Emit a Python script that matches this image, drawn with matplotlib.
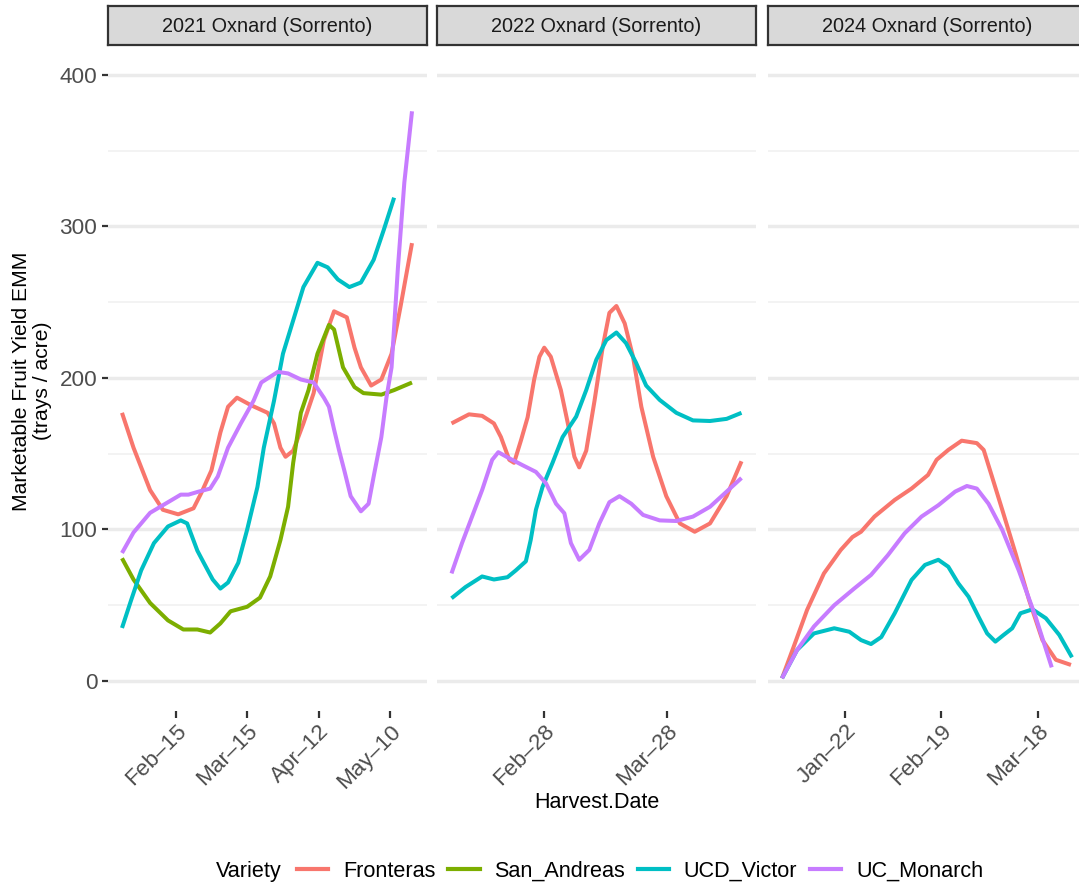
import matplotlib
matplotlib.use("Agg")
import matplotlib.pyplot as plt
import matplotlib.dates as mdates
from matplotlib.lines import Line2D
from matplotlib.ticker import MultipleLocator
import pandas as pd

plt.rcParams['font.family'] = ['Liberation Sans', 'DejaVu Sans']

# harvest dates are kept as days relative to each trial's first axis break
ref_2021 = "2021-02-15"
ref_2022 = "2022-02-28"
ref_2024 = "2024-01-22"

facet_titles = ["2021 Oxnard (Sorrento)", "2022 Oxnard (Sorrento)", "2024 Oxnard (Sorrento)"]
varieties = ["Fronteras", "San_Andreas", "UCD_Victor", "UC_Monarch"]
colors = {"Fronteras": "#F8766D", "San_Andreas": "#7CAE00",
          "UCD_Victor": "#00BFC4", "UC_Monarch": "#C77CFF"}

# ---- 2021
fr21_days = [-21, -16.5, -10, -5, 1, 7, 10, 14, 17.5, 20.5, 24, 29.5, 36, 38.5, 41, 43, 46, 50, 54,
             58, 62, 67, 70, 72.5, 76.5, 80.5, 84.5, 88, 92.5]
fr21_vals = [177, 154, 126, 113, 110, 114, 124, 139, 164, 181, 187, 182, 177, 170, 154, 148, 152, 170, 190,
             225, 244, 240, 220, 207, 195, 199, 216, 247, 289]
sa21_days = [-21, -16.5, -10, -3, 3, 8.5, 13.5, 17.5, 21.5, 28, 33, 37, 41, 44, 46, 49, 52, 55.5,
             60, 62, 65.5, 70, 73.5, 80.5, 85.5, 92.5]
sa21_vals = [81, 67, 51.5, 40, 34, 34, 32, 38, 46, 49, 55, 69, 93, 115, 144, 177, 192, 216,
             235, 232, 207, 194, 190, 189, 192, 197]
uv21_days = [-21, -17.5, -13.5, -8.5, -3, 2, 4.5, 8.5, 11, 14.5, 17.5, 20.5, 24.5, 28, 32, 34.5,
             38.5, 42, 46, 50, 55.5, 59.5, 63.5, 68, 72.5, 77.5, 81.5, 85.5]
uv21_vals = [35, 53, 73, 91, 102, 106, 104, 86, 78, 67, 61, 65, 78, 100, 128, 154,
             185, 216, 238, 260, 276, 273, 265, 260, 263, 278, 298, 319]
um21_days = [-21, -16.5, -10, -3, 2, 5, 9, 13.5, 16.5, 20.5, 25.5, 30.5, 33.5, 40, 44, 49, 54, 58,
             60, 62, 64, 66, 68.5, 72.5, 75.5, 77.5, 80.5, 82.5, 84.5, 87, 89.5, 92.5]
um21_vals = [84.5, 98, 111, 118, 123, 123, 125, 127, 135, 154, 170, 185, 197, 204, 203, 199, 197, 187,
             181, 166, 152, 139, 122, 112, 117, 135, 161, 187, 207, 273, 329, 376]

# ---- 2022
fr22_days = [-21.2, -17.2, -14.2, -11.5, -9.9, -8, -6.9, -5.3, -3.8, -2.3, -1.1, 0, 1.5, 3.8, 5.4,
             6.9, 8, 9.6, 11.5, 13.4, 14.9, 16.5, 18.4, 20.3, 22.2, 24.9, 27.9, 31, 34.4, 37.9, 41.7, 45.1]
fr22_vals = [170, 176, 175, 170, 161, 146, 144, 159, 174, 199, 214, 220, 214, 192, 170,
             148, 141, 152, 185, 221, 243, 247.5, 236, 214, 181, 148, 122, 104, 98.5, 104, 122, 145]
uv22_days = [-21.2, -18, -14.2, -11.5, -8.4, -6.5, -4.2, -3.1, -1.9, -0.4, 1.9, 4.2, 7.3, 9.6, 11.9,
             14.2, 16.5, 18.7, 21, 23.3, 26.4, 30.2, 34, 37.9, 41.7, 45.1]
uv22_vals = [54.6, 62, 69, 67, 68.5, 73, 79, 93, 113, 128, 144, 161, 174.5, 192, 212,
             225, 230, 223, 210, 195, 185.5, 177, 172, 171.6, 173, 177]
um22_days = [-21.2, -18.8, -16.5, -14.2, -11.9, -10.5, -8, -5, -1.9, 0.4, 2.7, 4.6, 6.1, 8, 10.3,
             12.6, 14.9, 17.2, 19.9, 22.6, 26.4, 30.2, 34, 37.9, 41.7, 45.1]
um22_vals = [71, 91, 108.5, 126, 146, 151, 147, 142.5, 138, 130.5, 117, 110.7, 91, 80, 86.5,
             104, 118, 122, 117, 109.6, 106, 105.6, 108.5, 115, 125, 134]

# ---- 2024
fr24_days = [-18.4, -15, -11.1, -6.2, -1.3, 2.1, 4.6, 8.5, 14.4, 19.3, 24.1, 26.6, 30, 33.9, 38.3,
             40.3, 42.7, 45.7, 49.6, 53.5, 57.4, 61.3, 65.7]
fr24_vals = [1.8, 22.6, 46.9, 71, 86.5, 95, 98.5, 108.5, 119.5, 127, 136, 146, 152.5, 158.6, 157,
             152.5, 135, 113, 84, 53.5, 27, 14, 10.6]
uv24_days = [-18.4, -14, -9.1, -3.2, 1.2, 4.6, 7.5, 10.5, 14.4, 19.3, 23.2, 27.1, 30, 32.9, 35.9,
             38.8, 41.3, 43.7, 46.1, 48.6, 51, 54.5, 58.4, 62.3, 66]
uv24_vals = [1.8, 20.5, 31.4, 34.8, 32.5, 27, 24.4, 29, 44.7, 66.7, 76.6, 80, 75.4, 64.5, 55.6,
             42.4, 31.4, 26, 30.4, 34.8, 44.7, 47.3, 41.4, 30.4, 15.6]
um24_days = [-18.4, -14, -9.1, -3.2, 2.6, 7.5, 12.4, 17.3, 22.2, 27.1, 32, 35.4, 38.3, 41.7, 45.7,
             50.5, 55.4, 60.1]
um24_vals = [1.8, 20.5, 36, 50, 61, 70, 83, 97.5, 108.5, 116, 125, 128.7, 127, 117, 99.7,
             73, 42.4, 9]

panels = [
    (ref_2021, 4, {"Fronteras": (fr21_days, fr21_vals), "San_Andreas": (sa21_days, sa21_vals),
                   "UCD_Victor": (uv21_days, uv21_vals), "UC_Monarch": (um21_days, um21_vals)}),
    (ref_2022, 2, {"Fronteras": (fr22_days, fr22_vals), "UCD_Victor": (uv22_days, uv22_vals),
                   "UC_Monarch": (um22_days, um22_vals)}),
    (ref_2024, 3, {"Fronteras": (fr24_days, fr24_vals), "UCD_Victor": (uv24_days, uv24_vals),
                   "UC_Monarch": (um24_days, um24_vals)}),
]

W, H = 1079, 888
fig = plt.figure(figsize=(W / 100, H / 100), dpi=100)

lefts = [107.5, 437, 767.5]
pw = 319
p_top, p_bot = 51, 711
tick_fs = 16.2

for i, (ref, nbreaks, series) in enumerate(panels):
    ax = fig.add_axes([lefts[i] / W, (H - p_bot) / H, pw / W, (p_bot - p_top) / H])
    ref_dt = pd.Timestamp(ref)
    all_days = []
    for v in varieties:
        if v not in series:
            continue
        d, y = series[v]
        x = ref_dt + pd.to_timedelta(d, unit="D")
        ax.plot(x, y, color=colors[v], lw=2.9, solid_joinstyle="round", solid_capstyle="butt")
        all_days += list(d)
    lo, hi = min(all_days), max(all_days)
    pad = (hi - lo) * 0.05
    ax.set_xlim(ref_dt + pd.Timedelta(days=lo - pad), ref_dt + pd.Timedelta(days=hi + pad))
    ax.set_ylim(-19.8, 415.8)

    ax.set_xticks(pd.date_range(ref_dt, periods=nbreaks, freq="28D"))
    ax.xaxis.set_major_formatter(mdates.DateFormatter("%b\u2013%d"))
    ax.set_yticks([0, 100, 200, 300, 400])
    ax.yaxis.set_minor_locator(MultipleLocator(50))
    ax.grid(axis="y", which="major", color="#EBEBEB", lw=2.5)
    ax.grid(axis="y", which="minor", color="#F2F2F2", lw=1.3)
    ax.set_axisbelow(True)
    for s in ax.spines.values():
        s.set_visible(False)
    ax.tick_params(axis="x", length=5, width=1.6, color="#333333", pad=2,
                   labelsize=tick_fs, labelcolor="#4D4D4D")
    ax.tick_params(axis="y", which="major", length=4.3, width=1.6, color="#333333", pad=3,
                   labelsize=tick_fs, labelcolor="#4D4D4D")
    ax.tick_params(axis="y", which="minor", length=0)
    for lab in ax.get_xticklabels():
        lab.set_rotation(45)
        lab.set_ha("right")
        lab.set_va("top")
        lab.set_rotation_mode("anchor")
    if i > 0:
        ax.tick_params(axis="y", which="major", left=False, labelleft=False)

    # facet strip
    sax = fig.add_axes([lefts[i] / W, (H - 45) / H, pw / W, 39 / H])
    sax.set_facecolor("#D9D9D9")
    sax.set_xticks([])
    sax.set_yticks([])
    for s in sax.spines.values():
        s.set_color("#333333")
        s.set_linewidth(1.6)
    sax.text(0.5, 0.48, facet_titles[i], ha="center", va="center", fontsize=14.3,
             color="#1A1A1A", transform=sax.transAxes)

fig.text(32 / W, 1 - 381 / H, "Marketable Fruit Yield EMM\n(trays / acre)", rotation=90,
         ha="center", va="center", multialignment="center", fontsize=15.2, color="black",
         linespacing=1.1)
fig.text(597 / W, 1 - 802 / H, "Harvest.Date", ha="center", va="center", fontsize=15.5)

fig.text(216 / W, 1 - 871 / H, "Variety", ha="left", va="center", fontsize=15.6)
handles = [Line2D([], [], color=colors[v], lw=3) for v in varieties]
fig.legend(handles, varieties, loc="center left", bbox_to_anchor=(297 / W, 1 - 871 / H),
           ncol=4, frameon=False, fontsize=15.6, handlelength=1.45, handletextpad=0.68,
           columnspacing=0.58, borderpad=0, borderaxespad=0)

fig.savefig("out.png", dpi=100)
